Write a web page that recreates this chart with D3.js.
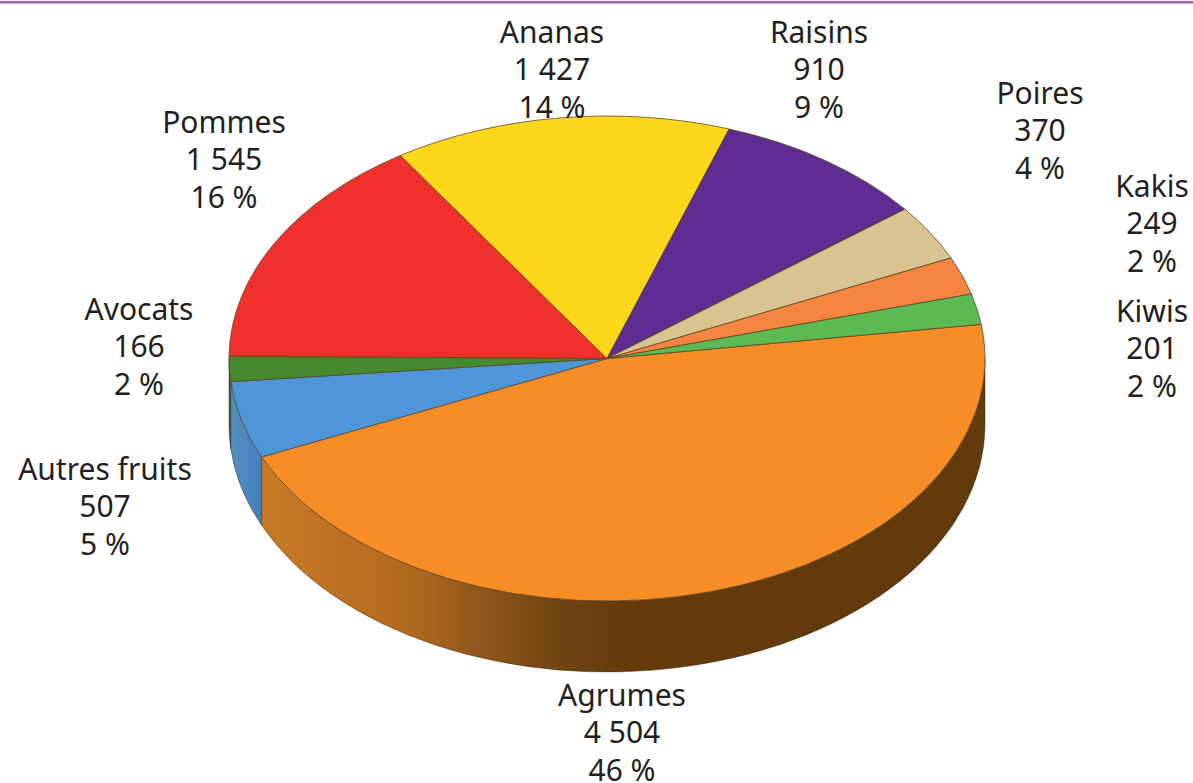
<!DOCTYPE html>
<html>
<head>
<meta charset="utf-8">
<script src="https://cdn.jsdelivr.net/npm/d3@7"></script>
<style>
  html, body { margin: 0; padding: 0; background: #fff; }
  svg { display: block; }
  text { font-family: "Noto Sans", sans-serif; font-size: 30px; fill: #231f20; text-anchor: middle; }
</style>
</head>
<body>
<div id="chart"></div>
<script>
// values, starting with Agrumes and going clockwise
const categories = ['Agrumes', 'Autres fruits', 'Avocats', 'Pommes', 'Ananas', 'Raisins', 'Poires', 'Kakis', 'Kiwis'];
const values = [4504, 507, 166, 1545, 1427, 910, 370, 249, 201];
const valueLabels = ['4 504', '507', '166', '1 545', '1 427', '910', '370', '249', '201'];
const percents = ['46 %', '5 %', '2 %', '16 %', '14 %', '9 %', '4 %', '2 %', '2 %'];

const colors = ['#f78d26', '#4f96d8', '#45892f', '#f0302d', '#fdd71c', '#5d2d91', '#d8c391', '#f58540', '#5cba55'];
const wallColors = ['url(#wallOrange)', 'url(#wallBlue)', '#2f5a50'];

// label placement: centre x, baseline of the first line
const labelX = [622, 105, 139, 224, 552, 819, 1040, 1152, 1152];
const labelY = [706, 480, 320, 133, 43, 43, 104, 197, 322];

const width = 1193, height = 783;
const cx = 607, cy = 358.5, rx = 378, ry = 242.5;
// the lower rim is a slightly rounder ellipse than the top face
const cyLow = 425, ryLow = 247;
const lineGap = 37.3;

const svg = d3.select('#chart').append('svg').attr('width', width).attr('height', height);

// purple rule on top of the page
svg.append('rect').attr('x', 0).attr('y', 1).attr('width', width).attr('height', 2.5).style('fill', '#a561b1');

const defs = svg.append('defs');

function wallGradient(id, x1, x2, stops) {
  const g = defs.append('linearGradient')
    .attr('id', id)
    .attr('gradientUnits', 'userSpaceOnUse')
    .attr('x1', x1).attr('x2', x2).attr('y1', 0).attr('y2', 0);
  stops.forEach(s => g.append('stop').attr('offset', s[0]).attr('stop-color', s[1]));
}
wallGradient('wallOrange', 262, 985, [[0, '#c97a25'], [0.2, '#b06a20'], [0.3, '#8f571a'], [0.42, '#6f4312'], [0.52, '#643a0c'], [1, '#623a0c']]);
wallGradient('wallBlue', 229, 262, [[0, '#5a8fbe'], [1, '#3f7fc0']]);

const pie = d3.pie().sort(null).value(d => d)
  .startAngle(81.9 * Math.PI / 180)
  .endAngle((81.9 + 360) * Math.PI / 180);
const slices = pie(values);

const arc = d3.arc().innerRadius(0).outerRadius(rx);

function rimX(a) { return cx + rx * Math.sin(a); }
function rimY(a) { return cy - ry * Math.cos(a); }
function lowY(a) { return cyLow - ryLow * Math.cos(a); }

// only the part of the rim facing the viewer gets a wall
function wallPath(d) {
  const a0 = Math.max(d.startAngle, Math.PI / 2);
  const a1 = Math.min(d.endAngle, 3 * Math.PI / 2);
  const large = a1 - a0 > Math.PI ? 1 : 0;
  return `M${rimX(a0)},${rimY(a0)}` +
    `A${rx},${ry} 0 ${large} 1 ${rimX(a1)},${rimY(a1)}` +
    `L${rimX(a1)},${lowY(a1)}` +
    `A${rx},${ryLow} 0 ${large} 0 ${rimX(a0)},${lowY(a0)}Z`;
}

svg.append('g').selectAll('path')
  .data(slices.filter(d => d.startAngle < 3 * Math.PI / 2 && d.endAngle > Math.PI / 2))
  .join('path')
  .attr('d', wallPath)
  .style('fill', (d, i) => wallColors[i])
  .style('stroke', '#3b2a1a')
  .style('stroke-opacity', 0.6)
  .style('stroke-width', 0.8);

svg.append('g')
  .attr('transform', `translate(${cx},${cy}) scale(1,${ry / rx})`)
  .selectAll('path')
  .data(slices)
  .join('path')
  .attr('d', arc)
  .attr('vector-effect', 'non-scaling-stroke')
  .style('fill', (d, i) => colors[i])
  .style('stroke', '#5a4020')
  .style('stroke-opacity', 0.75)
  .style('stroke-width', 1);

const labels = svg.append('g').selectAll('text')
  .data(categories)
  .join('text')
  .attr('x', (d, i) => labelX[i])
  .attr('y', (d, i) => labelY[i]);

labels.append('tspan').attr('x', (d, i) => labelX[i]).text(d => d);
labels.append('tspan').attr('x', (d, i) => labelX[i]).attr('dy', lineGap).text((d, i) => valueLabels[i]);
labels.append('tspan').attr('x', (d, i) => labelX[i]).attr('dy', lineGap).text((d, i) => percents[i]);
</script>
</body>
</html>
